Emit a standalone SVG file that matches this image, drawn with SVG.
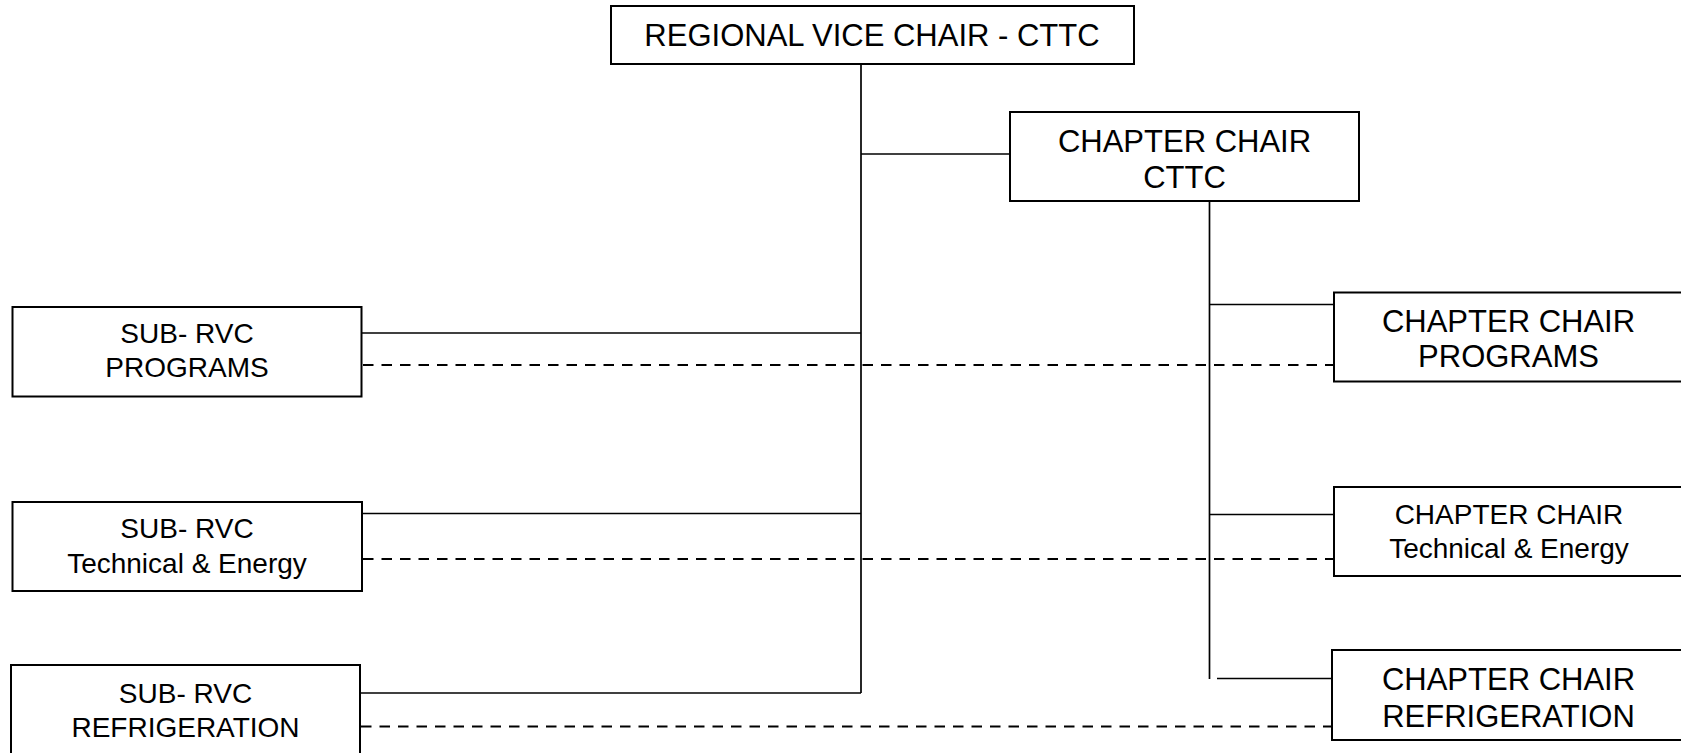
<svg xmlns="http://www.w3.org/2000/svg" width="1681" height="753" viewBox="0 0 1681 753">
<style>
.box{fill:#fff;stroke:#000;stroke-width:2}
.t{font-family:"Liberation Sans",Arial,sans-serif;fill:#000;text-anchor:middle}
.big{font-size:31px}
.sm{font-size:28px}
.ln{stroke:#000;stroke-width:1.7;fill:none}
.dash{stroke:#000;stroke-width:2;fill:none;stroke-dasharray:10.5 8}
</style>
<rect width="1681" height="753" fill="#fff"/>
<g id="connectors">
<line class="ln" x1="861" y1="64" x2="861" y2="693"/>
<line class="ln" x1="861" y1="154" x2="1010" y2="154"/>
<line class="ln" x1="362" y1="333" x2="861" y2="333"/>
<line class="ln" x1="362" y1="513.5" x2="861" y2="513.5"/>
<line class="ln" x1="361" y1="693" x2="861" y2="693"/>
<line class="ln" x1="1209.5" y1="201" x2="1209.5" y2="679"/>
<line class="ln" x1="1209.5" y1="304.5" x2="1334" y2="304.5"/>
<line class="ln" x1="1209.5" y1="514.5" x2="1334" y2="514.5"/>
<line class="ln" x1="1217" y1="678.5" x2="1336" y2="678.5"/>
<line class="dash" x1="363" y1="365" x2="1333" y2="365"/>
<line class="dash" x1="363" y1="559" x2="1333" y2="559"/>
<line class="dash" x1="361" y1="726.5" x2="1331" y2="726.5"/>
</g>
<g id="rvc">
<rect class="box" x="611" y="6" width="523" height="58"/>
<text class="t big" x="872" y="46">REGIONAL VICE CHAIR - CTTC</text>
</g>
<g id="chapter-cttc">
<rect class="box" x="1010" y="112" width="349" height="89"/>
<text class="t big" x="1184.5" y="151.5">CHAPTER CHAIR</text>
<text class="t big" x="1184.5" y="187.5">CTTC</text>
</g>
<g id="sub-programs">
<rect class="box" x="12.5" y="307" width="349" height="89.5"/>
<text class="t sm" x="187" y="343">SUB- RVC</text>
<text class="t sm" x="187" y="377">PROGRAMS</text>
</g>
<g id="sub-tech">
<rect class="box" x="12.5" y="502" width="349.5" height="89"/>
<text class="t sm" x="187" y="537.5">SUB- RVC</text>
<text class="t sm" x="187" y="572.5">Technical &amp; Energy</text>
</g>
<g id="sub-refrig">
<rect class="box" x="11" y="665" width="349" height="100"/>
<text class="t sm" x="185.5" y="702.5">SUB- RVC</text>
<text class="t sm" x="185.5" y="736.5">REFRIGERATION</text>
</g>
<g id="chapter-programs">
<rect class="box" x="1334" y="292.5" width="360" height="89"/>
<text class="t big" x="1508.5" y="331.5">CHAPTER CHAIR</text>
<text class="t big" x="1508.5" y="367">PROGRAMS</text>
</g>
<g id="chapter-tech">
<rect class="box" x="1334" y="487" width="360" height="89"/>
<text class="t sm" x="1509" y="523.5">CHAPTER CHAIR</text>
<text class="t sm" x="1509" y="558">Technical &amp; Energy</text>
</g>
<g id="chapter-refrig">
<rect class="box" x="1332" y="650" width="362" height="90"/>
<text class="t big" x="1508.5" y="690">CHAPTER CHAIR</text>
<text class="t big" x="1508.5" y="727">REFRIGERATION</text>
</g>
</svg>
